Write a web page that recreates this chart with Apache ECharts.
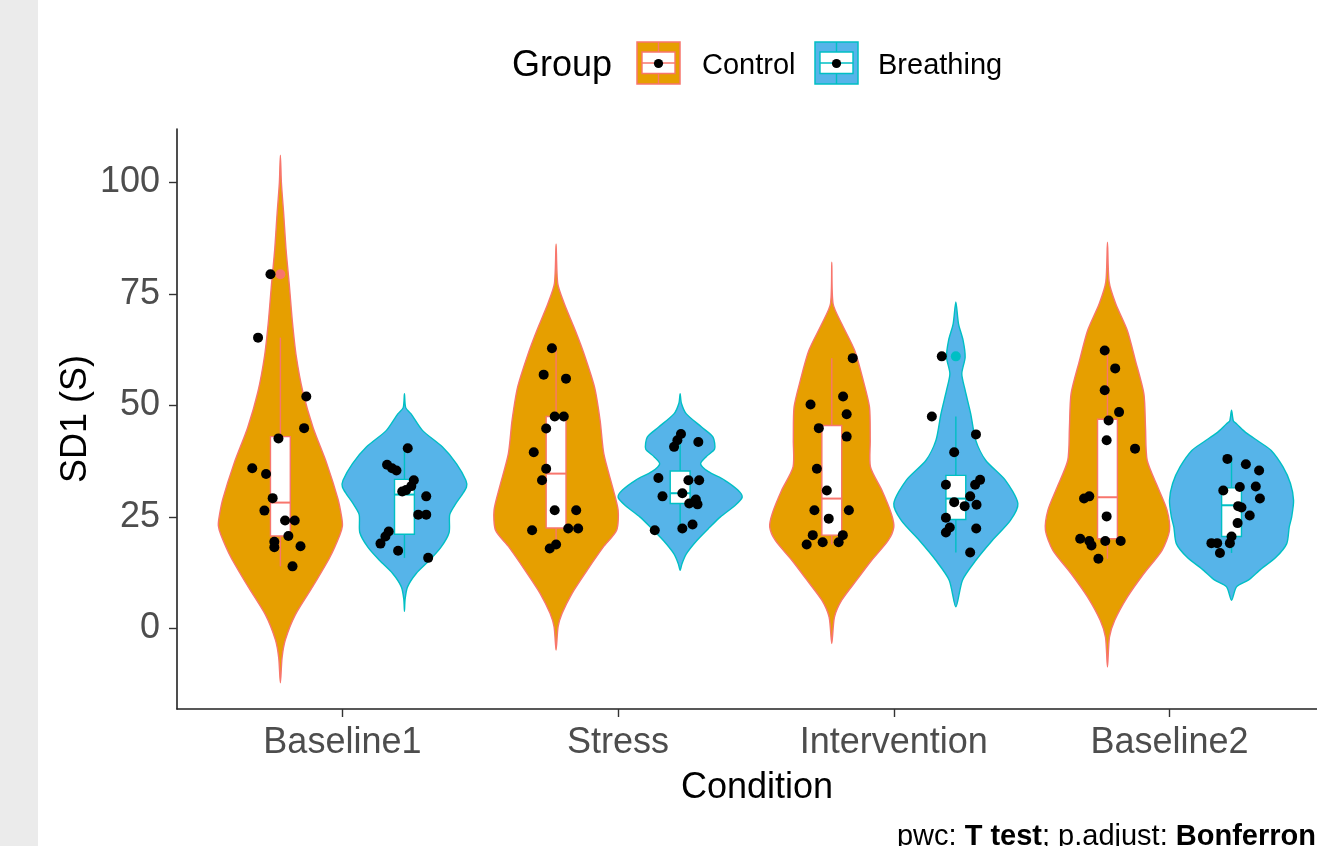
<!DOCTYPE html>
<html>
<head>
<meta charset="utf-8">
<title>SD1 by condition</title>
<script src="https://cdn.jsdelivr.net/npm/echarts@6/dist/echarts.min.js"></script>
<style>
  html, body { margin: 0; padding: 0; background: #fff; }
  #chart { width: 1317px; height: 846px; }
</style>
</head>
<body>
<div id="chart"></div>
<script>
// categories and groups
var conditions = ['Baseline1', 'Stress', 'Intervention', 'Baseline2'];
var groups = ['Control', 'Breathing'];
var yTicks = [0, 25, 50, 75, 100];

// individual SD1 values (one row per condition)
var controlSD1 = [
  [79.4, 65.2, 52.0, 44.9, 42.6, 35.9, 34.6, 29.2, 26.4, 24.2, 24.2, 20.7, 19.4, 18.2, 18.4, 13.9],
  [62.8, 56.9, 56.0, 47.5, 47.5, 44.8, 39.5, 35.8, 33.2, 26.5, 26.5, 22.0, 22.4, 22.4, 18.8, 17.9],
  [60.6, 50.2, 52.0, 48.0, 44.9, 43.0, 35.8, 30.9, 26.5, 26.5, 24.6, 20.9, 20.9, 18.8, 19.3, 19.3],
  [62.3, 58.3, 53.4, 48.5, 46.6, 42.2, 40.3, 29.1, 29.6, 25.1, 20.1, 19.6, 18.6, 19.6, 19.6, 15.6]
];
// horizontal jitter of each point (category units, from violin centre)
var controlJitter = [
  [-0.036, -0.081, 0.094, 0.086, -0.007, -0.102, -0.052, -0.028, -0.058, 0.017, 0.052, 0.029, -0.022, -0.022, 0.073, 0.044],
  [-0.015, -0.045, 0.036, -0.005, 0.028, -0.036, -0.081, -0.036, -0.051, -0.005, 0.073, -0.087, 0.044, 0.080, 0.000, -0.023],
  [0.076, -0.077, 0.041, 0.054, -0.047, 0.054, -0.054, -0.018, -0.063, 0.062, -0.011, -0.069, 0.040, -0.091, -0.033, 0.025],
  [-0.010, 0.028, -0.010, 0.042, 0.004, -0.003, 0.100, -0.085, -0.066, -0.003, -0.099, -0.066, -0.058, -0.008, 0.048, -0.033]
];
var breathingSD1 = [
  [40.4, 36.7, 35.9, 35.4, 33.2, 31.9, 31.0, 30.7, 29.6, 25.5, 25.5, 21.7, 20.6, 19.0, 17.4, 15.8],
  [43.6, 42.2, 40.7, 41.8, 33.7, 33.2, 33.2, 29.6, 30.3, 28.9, 28.0, 27.8, 22.0, 22.4, 23.3, 28.5],
  [61.0, 47.5, 43.5, 39.5, 32.2, 32.2, 33.3, 29.6, 28.3, 27.4, 27.7, 24.8, 22.6, 21.5, 22.4, 17.0],
  [38.0, 36.8, 35.4, 30.9, 31.7, 31.8, 29.1, 27.4, 27.1, 25.3, 23.6, 20.6, 19.1, 19.1, 19.1, 16.9]
];
var breathingJitter = [
  [0.012, -0.063, -0.045, -0.029, 0.034, 0.025, 0.006, -0.008, 0.079, 0.050, 0.079, -0.057, -0.069, -0.087, -0.023, 0.086],
  [0.003, -0.010, -0.022, 0.066, -0.079, 0.030, 0.069, -0.064, 0.008, 0.057, 0.033, 0.063, -0.092, 0.008, 0.045, 0.054],
  [-0.051, -0.087, 0.073, -0.006, -0.036, 0.070, 0.088, 0.052, -0.006, 0.032, 0.075, -0.036, -0.022, -0.036, 0.074, 0.052],
  [-0.015, 0.052, 0.100, -0.030, 0.030, 0.088, 0.103, 0.024, 0.036, 0.066, 0.022, 0.000, -0.006, -0.073, -0.052, -0.042]
];

// box stats: [lower whisker, Q1, median, Q3, upper whisker]
var controlBox = [
  [13.9, 20.7, 28.2, 43.0, 65.2],
  [17.9, 22.5, 34.7, 47.5, 62.8],
  [18.8, 20.9, 29.1, 45.5, 60.6],
  [15.6, 20.1, 29.4, 46.9, 62.3]
];
var breathingBox = [
  [15.8, 21.1, 30.0, 33.4, 40.4],
  [22.0, 28.0, 30.3, 35.3, 43.6],
  [17.0, 24.4, 29.1, 34.3, 47.5],
  [16.9, 20.6, 27.6, 31.5, 38.0]
];
var controlOutliers = [[79.4], [], [], []];
var breathingOutliers = [[], [], [61.0], []];

// violin density profiles: [SD1, relative width]
var controlViolin = [
  [[106.1, 0], [100, 0.016], [93, 0.053], [85, 0.091], [77, 0.144], [69, 0.192], [61, 0.256], [53, 0.363], [45, 0.528], [37, 0.747], [29, 0.928], [25, 0.987], [23, 1.0], [21, 0.96], [16, 0.8], [9.5, 0.528], [3, 0.24], [-2.6, 0.08], [-6.6, 0.027], [-12.2, 0]],
  [[86.2, 0], [77.3, 0.027], [72.8, 0.133], [66.8, 0.31], [61.6, 0.45], [54.1, 0.62], [46.6, 0.71], [39.1, 0.77], [31.7, 0.91], [26.5, 1.0], [22, 0.976], [18.2, 0.76], [13, 0.5], [7.8, 0.256], [3.3, 0.096], [0.3, 0.032], [-4.9, 0]],
  [[82.1, 0], [72.8, 0.021], [68.3, 0.16], [62.3, 0.37], [55.6, 0.507], [49.6, 0.608], [42.2, 0.62], [36.2, 0.624], [30.9, 0.81], [25.7, 0.96], [22.7, 1.0], [19.7, 0.91], [15.2, 0.64], [10.8, 0.4], [6.3, 0.16], [2.5, 0.043], [-3.4, 0]],
  [[86.6, 0], [77.7, 0.027], [72.8, 0.133], [66.8, 0.32], [60.1, 0.45], [52.6, 0.587], [45.1, 0.613], [37.7, 0.64], [31.7, 0.81], [26.5, 0.96], [22, 1.0], [17.5, 0.88], [12.3, 0.587], [7, 0.32], [1.8, 0.117], [-2, 0.032], [-8.7, 0]]
];
var breathingViolin = [
  [[52.6, 0], [49.5, 0.02], [48.1, 0.107], [44.4, 0.29], [40.7, 0.61], [36.9, 0.84], [33.2, 0.99], [31.7, 1.0], [30, 0.93], [28, 0.83], [25.5, 0.73], [21.5, 0.72], [18.2, 0.59], [15.2, 0.4], [12.3, 0.19], [9.3, 0.05], [6.5, 0.01], [3.8, 0]],
  [[52.6, 0], [50.5, 0.02], [48.1, 0.1], [45.1, 0.35], [42.9, 0.53], [40.2, 0.555], [38.5, 0.42], [36.9, 0.33], [35.2, 0.45], [33.2, 0.72], [31.0, 0.93], [29.4, 1.0], [27.5, 0.88], [25, 0.65], [22.7, 0.48], [19.7, 0.27], [16.7, 0.1], [14.5, 0.03], [13, 0]],
  [[73.2, 0], [68.3, 0.043], [64.6, 0.117], [60.8, 0.15], [57.1, 0.096], [53.4, 0.15], [48.1, 0.24], [42.2, 0.32], [37.7, 0.48], [33.2, 0.8], [28, 1.0], [24.2, 0.88], [19.7, 0.587], [15.2, 0.32], [10.8, 0.107], [4.8, 0]],
  [[48.9, 0], [46.5, 0.03], [45.9, 0.08], [44.4, 0.19], [43.6, 0.26], [41.8, 0.45], [39.9, 0.64], [36.2, 0.83], [32.5, 0.95], [28.7, 1.0], [25, 0.97], [22.7, 0.93], [19, 0.89], [16, 0.72], [13, 0.45], [10.8, 0.27], [9.3, 0.08], [6.3, 0]]
];

var fillColors = ['#E69F00', '#56B4E9'];
var lineColors = ['#F8766D', '#00BFC4'];
var dodge = [-0.225, 0.225];   // position_dodge(0.9)
var violinHalf = 0.225;
var boxHalf = 0.036;
var FONT = 'Liberation Sans, Arial, sans-serif';

var sd1 = [controlSD1, breathingSD1];
var jitter = [controlJitter, breathingJitter];
var boxes = [controlBox, breathingBox];
var outliers = [controlOutliers, breathingOutliers];
var violins = [controlViolin, breathingViolin];

// data items for custom series: [condition, group]
var cells = [];
conditions.forEach(function (c, ci) {
  groups.forEach(function (g, gi) { cells.push([ci, gi]); });
});

function renderViolin(params, api) {
  var ci = api.value(0), gi = api.value(1);
  var cx = ci + 1 + dodge[gi];
  var prof = violins[gi][ci];
  var pts = [];
  prof.forEach(function (p) { pts.push(api.coord([cx + p[1] * violinHalf, p[0]])); });
  for (var i = prof.length - 2; i >= 1; i--) {
    pts.push(api.coord([cx - prof[i][1] * violinHalf, prof[i][0]]));
  }
  return {
    type: 'polygon',
    shape: { points: pts, smooth: 0.25 },
    style: { fill: fillColors[gi], stroke: lineColors[gi], lineWidth: 1.4 }
  };
}

function renderBox(params, api) {
  var ci = api.value(0), gi = api.value(1);
  var cx = ci + 1 + dodge[gi];
  var b = boxes[gi][ci];
  var col = lineColors[gi];
  var tl = api.coord([cx - boxHalf, b[3]]);
  var br = api.coord([cx + boxHalf, b[1]]);
  var ml = api.coord([cx - boxHalf, b[2]]);
  var mr = api.coord([cx + boxHalf, b[2]]);
  var lo = api.coord([cx, b[0]]), q1 = api.coord([cx, b[1]]);
  var q3 = api.coord([cx, b[3]]), hi = api.coord([cx, b[4]]);
  var ls = { stroke: col, lineWidth: 1.4 };
  return {
    type: 'group',
    children: [
      { type: 'line', shape: { x1: hi[0], y1: hi[1], x2: q3[0], y2: q3[1] }, style: ls },
      { type: 'line', shape: { x1: q1[0], y1: q1[1], x2: lo[0], y2: lo[1] }, style: ls },
      { type: 'rect', shape: { x: tl[0], y: tl[1], width: br[0] - tl[0], height: br[1] - tl[1] },
        style: { fill: '#fff', stroke: col, lineWidth: 1.4 } },
      { type: 'line', shape: { x1: ml[0], y1: ml[1], x2: mr[0], y2: mr[1] }, style: { stroke: col, lineWidth: 2 } }
    ]
  };
}

var series = [
  { type: 'custom', name: 'violin', renderItem: renderViolin, data: cells, silent: true, z: 1 },
  { type: 'custom', name: 'box', renderItem: renderBox, data: cells, silent: true, z: 2 }
];

groups.forEach(function (g, gi) {
  var outData = [];
  outliers[gi].forEach(function (vals, ci) {
    vals.forEach(function (v) { outData.push([ci + 1 + dodge[gi], v]); });
  });
  series.push({
    type: 'scatter', name: g + ' outliers', data: outData, symbolSize: 10, z: 3,
    itemStyle: { color: lineColors[gi], opacity: 1 }, silent: true
  });
});

groups.forEach(function (g, gi) {
  var pts = [];
  sd1[gi].forEach(function (vals, ci) {
    vals.forEach(function (v, k) { pts.push([ci + 1 + dodge[gi] + jitter[gi][ci][k], v]); });
  });
  series.push({
    type: 'scatter', name: g, data: pts, symbolSize: 10, z: 4,
    itemStyle: { color: '#000', opacity: 1 }, silent: true
  });
});

// legend key drawn as graphics (violin + box + point)
function legendKey(x, gi) {
  return {
    type: 'group', x: x, y: 42,
    children: [
      { type: 'rect', shape: { x: 0, y: 0, width: 43, height: 42 }, style: { fill: fillColors[gi], stroke: lineColors[gi], lineWidth: 1.5 } },
      { type: 'line', shape: { x1: 21.5, y1: 0, x2: 21.5, y2: 42 }, style: { stroke: lineColors[gi], lineWidth: 1.4 } },
      { type: 'rect', shape: { x: 5, y: 10, width: 33, height: 21.5 }, style: { fill: '#fff', stroke: lineColors[gi], lineWidth: 1.4 } },
      { type: 'line', shape: { x1: 5, y1: 21, x2: 38, y2: 21 }, style: { stroke: lineColors[gi], lineWidth: 1.6 } },
      { type: 'circle', shape: { cx: 21.5, cy: 21.5, r: 4.6 }, style: { fill: '#000' } }
    ]
  };
}

var chart = echarts.init(document.getElementById('chart'));
chart.setOption({
  animation: false,
  backgroundColor: '#fff',
  // panel runs past the right edge of the picture; axis is cut at x = 1317
  grid: { left: 177, top: 129, width: 1140, height: 580 },
  xAxis: {
    type: 'value', min: 0.4, max: 4.535,
    axisLine: { onZero: false, lineStyle: { color: '#222', width: 1.6 } },
    axisTick: { customValues: [1, 2, 3, 4], length: 8, lineStyle: { color: '#333', width: 1.4 } },
    axisLabel: {
      customValues: [1, 2, 3, 4], margin: 16,
      formatter: function (v) { return conditions[Math.round(v) - 1]; },
      fontFamily: FONT, fontSize: 36, color: '#4D4D4D'
    },
    splitLine: { show: false }
  },
  yAxis: {
    type: 'value', min: -18.1, max: 112.0,
    axisLine: { show: true, onZero: false, lineStyle: { color: '#222', width: 1.6 } },
    axisTick: { show: true, customValues: yTicks, length: 8, lineStyle: { color: '#333', width: 1.4 } },
    axisLabel: {
      customValues: yTicks, margin: 17,
      fontFamily: FONT, fontSize: 36, color: '#4D4D4D'
    },
    splitLine: { show: false }
  },
  graphic: [
    { type: 'rect', shape: { x: 0, y: 0, width: 38, height: 846 }, style: { fill: '#EBEBEB' }, silent: true },
    { type: 'text', x: 76, y: 419, rotation: Math.PI / 2,
      style: { text: 'SD1 (S)', fontFamily: FONT, fontSize: 36, fill: '#000', textAlign: 'center', verticalAlign: 'middle' } },
    { type: 'text', x: 757, y: 788,
      style: { text: 'Condition', fontFamily: FONT, fontSize: 36, fill: '#000', textAlign: 'center', verticalAlign: 'middle' } },
    { type: 'text', x: 512, y: 66,
      style: { text: 'Group', fontFamily: FONT, fontSize: 36, fill: '#000', textAlign: 'left', verticalAlign: 'middle' } },
    legendKey(637, 0),
    { type: 'text', x: 702, y: 66,
      style: { text: 'Control', fontFamily: FONT, fontSize: 29, fill: '#000', textAlign: 'left', verticalAlign: 'middle' } },
    legendKey(815, 1),
    { type: 'text', x: 878, y: 66,
      style: { text: 'Breathing', fontFamily: FONT, fontSize: 29, fill: '#000', textAlign: 'left', verticalAlign: 'middle' } },
    { type: 'text', x: 1324, y: 837,
      style: {
        text: 'pwc: {b|T test}; p.adjust: {b|Bonferroni}',
        rich: { b: { fontWeight: 'bold', fontSize: 29, fontFamily: FONT, fill: '#000' } },
        fontFamily: FONT, fontSize: 29, fill: '#000', textAlign: 'right', verticalAlign: 'middle'
      } }
  ],
  series: series
});
</script>
</body>
</html>
